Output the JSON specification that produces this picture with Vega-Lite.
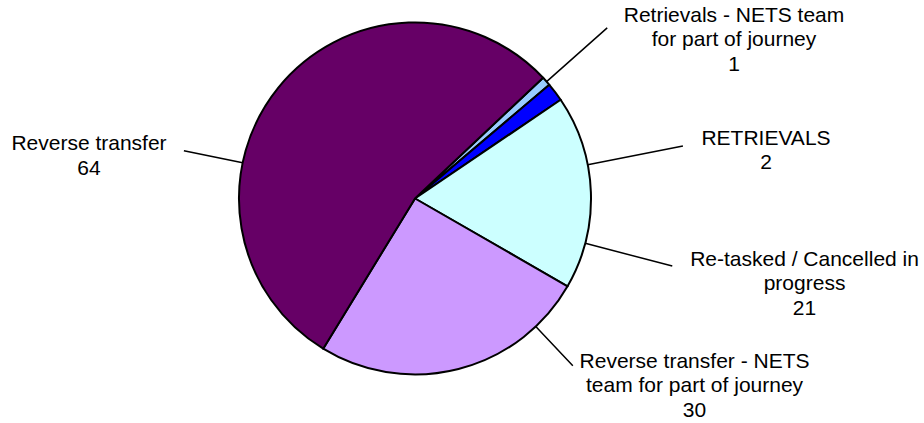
{
  "$schema": "https://vega.github.io/schema/vega-lite/v6.json",
  "autosize": {"type": "none"},
  "padding": {"left": 0, "top": 0, "right": 94, "bottom": 26},
  "width": 830,
  "height": 397,
  "background": "#ffffff",
  "config": {"view": {"stroke": null}},
  "data": {
    "values": [
      {"label": "Retrievals - NETS team for part of journey", "value": 1, "display": "Retrievals - NETS team\nfor part of journey\n1"},
      {"label": "RETRIEVALS", "value": 2, "display": "RETRIEVALS\n2"},
      {"label": "Re-tasked / Cancelled in progress", "value": 21, "display": "Re-tasked / Cancelled in\nprogress\n21"},
      {"label": "Reverse transfer - NETS team for part of journey", "value": 30, "display": "Reverse transfer - NETS\nteam for part of journey\n30"},
      {"label": "Reverse transfer", "value": 64, "display": "Reverse transfer\n64"}
    ]
  },
  "encoding": {
    "theta": {"field": "value", "type": "quantitative", "stack": true, "scale": {"range": [0.8151, 7.0983]}},
    "order": {"field": "value", "type": "quantitative", "sort": "ascending"}
  },
  "layer": [
    {
      "mark": {"type": "arc", "outerRadius": 176, "stroke": "#000000", "strokeWidth": 2, "strokeJoin": "round"},
      "encoding": {
        "color": {
          "field": "label", "type": "nominal", "legend": null,
          "scale": {
            "domain": ["Retrievals - NETS team for part of journey", "RETRIEVALS", "Re-tasked / Cancelled in progress", "Reverse transfer - NETS team for part of journey", "Reverse transfer"],
            "range": ["#99CCFF", "#0000FF", "#CCFFFF", "#CC99FF", "#660066"]
          }
        }
      }
    },
    {
      "mark": {"type": "arc", "innerRadius": 176, "outerRadius": 257, "thetaOffset": 0.003, "padAngle": 1, "fillOpacity": 0, "stroke": "#000000", "strokeWidth": 1.5},
      "encoding": {"strokeOpacity": {"condition": {"test": "datum.value == 1", "value": 1}, "value": 0}}
    },
    {
      "mark": {"type": "arc", "innerRadius": 176, "outerRadius": 273, "thetaOffset": 0.5357, "padAngle": 1, "fillOpacity": 0, "stroke": "#000000", "strokeWidth": 1.5},
      "encoding": {"strokeOpacity": {"condition": {"test": "datum.value == 1", "value": 1}, "value": 0}}
    },
    {
      "mark": {"type": "arc", "innerRadius": 176, "outerRadius": 266, "thetaOffset": 0.986, "padAngle": 1, "fillOpacity": 0, "stroke": "#000000", "strokeWidth": 1.5},
      "encoding": {"strokeOpacity": {"condition": {"test": "datum.value == 1", "value": 1}, "value": 0}}
    },
    {
      "mark": {"type": "arc", "innerRadius": 176, "outerRadius": 230, "thetaOffset": 1.5436, "padAngle": 1, "fillOpacity": 0, "stroke": "#000000", "strokeWidth": 1.5},
      "encoding": {"strokeOpacity": {"condition": {"test": "datum.value == 1", "value": 1}, "value": 0}}
    },
    {
      "mark": {"type": "arc", "innerRadius": 176, "outerRadius": 236, "thetaOffset": 4.0747, "padAngle": 1, "fillOpacity": 0, "stroke": "#000000", "strokeWidth": 1.5},
      "encoding": {"strokeOpacity": {"condition": {"test": "datum.value == 1", "value": 1}, "value": 0}}
    },
    {
      "mark": {"type": "text", "radius": 356.2, "thetaOffset": 0.268, "dy": -24.5, "font": "Liberation Sans", "fontSize": 21, "lineHeight": 24.5, "lineBreak": "\n", "align": "center", "baseline": "middle", "color": "#000000"},
      "encoding": {"text": {"condition": {"test": "datum.value == 1", "field": "display"}, "value": ""}}
    },
    {
      "mark": {"type": "text", "radius": 354.2, "thetaOffset": 0.5146, "dy": -12.25, "font": "Liberation Sans", "fontSize": 21, "lineHeight": 24.5, "lineBreak": "\n", "align": "center", "baseline": "middle", "color": "#000000"},
      "encoding": {"text": {"condition": {"test": "datum.value == 2", "field": "display"}, "value": ""}}
    },
    {
      "mark": {"type": "text", "radius": 398.8, "thetaOffset": 0.253, "dy": -24.5, "font": "Liberation Sans", "fontSize": 21, "lineHeight": 24.5, "lineBreak": "\n", "align": "center", "baseline": "middle", "color": "#000000"},
      "encoding": {"text": {"condition": {"test": "datum.value == 21", "field": "display"}, "value": ""}}
    },
    {
      "mark": {"type": "text", "radius": 336.6, "thetaOffset": -0.7301, "dy": -24.5, "font": "Liberation Sans", "fontSize": 21, "lineHeight": 24.5, "lineBreak": "\n", "align": "center", "baseline": "middle", "color": "#000000"},
      "encoding": {"text": {"condition": {"test": "datum.value == 30", "field": "display"}, "value": ""}}
    },
    {
      "mark": {"type": "text", "radius": 328.7, "thetaOffset": -0.5538, "dy": -12.25, "font": "Liberation Sans", "fontSize": 21, "lineHeight": 24.5, "lineBreak": "\n", "align": "center", "baseline": "middle", "color": "#000000"},
      "encoding": {"text": {"condition": {"test": "datum.value == 64", "field": "display"}, "value": ""}}
    }
  ]
}
